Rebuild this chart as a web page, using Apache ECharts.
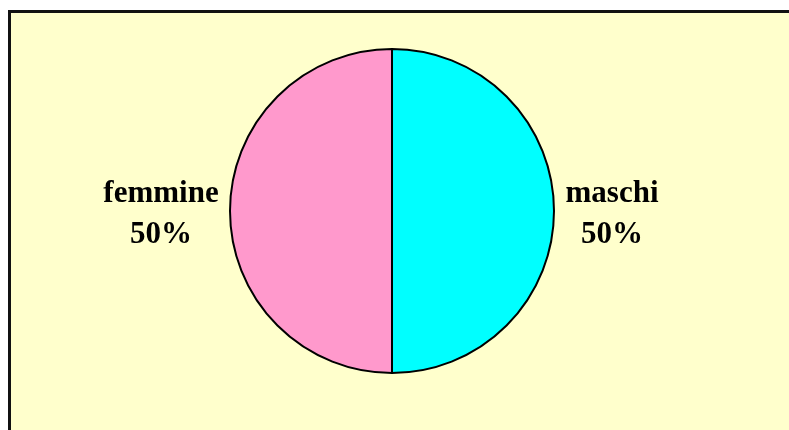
<!DOCTYPE html>
<html>
<head>
<meta charset="utf-8">
<style>
  html, body { margin: 0; padding: 0; background: #ffffff; }
  #chart { width: 789px; height: 430px; }
</style>
<script src="https://cdn.jsdelivr.net/npm/echarts@6/dist/echarts.min.js"></script>
</head>
<body>
<div id="chart"></div>
<script>
// dati del grafico
const categories = ['maschi', 'femmine'];
const values = [50, 50];
const colors = ['#00FFFF', '#FF99CC'];
// distanza etichetta dal bordo della torta
const labelGaps = [3, 14];

const chart = echarts.init(document.getElementById('chart'));

chart.setOption({
  backgroundColor: '#ffffff',
  animation: false,
  graphic: [{
    type: 'rect',
    z: -10,
    shape: { x: 9.5, y: 11.5, width: 820, height: 440 },
    style: { fill: '#FFFFCC', stroke: '#111111', lineWidth: 3 }
  }],
  series: [{
    type: 'pie',
    center: [392, 211],
    radius: 162,
    startAngle: 90,
    clockwise: true,
    avoidLabelOverlap: false,
    itemStyle: {
      borderColor: '#000000',
      borderWidth: 2
    },
    label: {
      show: true,
      position: 'outside',
      padding: [6, 0, 0, 0],
      formatter: '{t|{b}}\n{t|{d}%}',
      rich: {
        t: {
          width: 100,
          align: 'center',
          fontFamily: '"Liberation Serif", "Times New Roman", serif',
          fontWeight: 'bold',
          fontSize: 31,
          lineHeight: 41,
          color: '#000000'
        }
      }
    },
    labelLine: { show: false, length: 0, length2: 0 },
    emphasis: { disabled: true },
    data: categories.map((name, i) => ({
      name: name,
      value: values[i],
      itemStyle: { color: colors[i] },
      labelLine: { show: false, length: labelGaps[i], length2: 0 }
    }))
  }]
});
</script>
</body>
</html>
